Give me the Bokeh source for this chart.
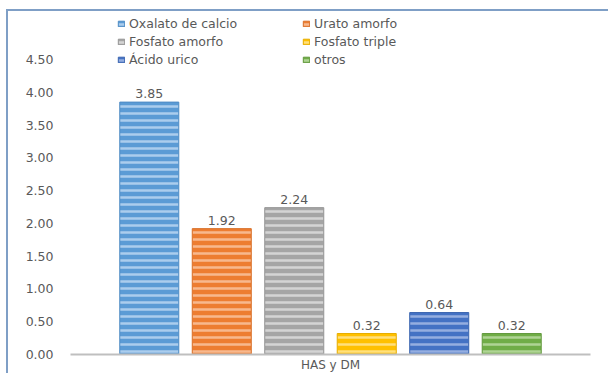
from bokeh.plotting import figure
from bokeh.models import (ColumnDataSource, FactorRange, Range1d, FixedTicker,
                          NumeralTickFormatter, Legend, LegendItem)
from bokeh.transform import dodge
from bokeh.core.properties import value
from bokeh.embed import file_html
from bokeh.resources import INLINE

category = ["HAS y DM"]
series = ["Oxalato de calcio", "Urato amorfo", "Fosfato amorfo",
          "Fosfato triple", "Ácido urico", "otros"]
values = [3.85, 1.92, 2.24, 0.32, 0.64, 0.32]
value_labels = ["3.85", "1.92", "2.24", "0.32", "0.64", "0.32"]
y_ticks = [0.0, 0.5, 1.0, 1.5, 2.0, 2.5, 3.0, 3.5, 4.0, 4.5]

fills = ["#5b9bd5", "#ed7d31", "#a5a5a5", "#ffc000", "#4472c4", "#70ad47"]
stripes = ["#b4d3f0", "#f8bf98", "#d9d9d9", "#ffe38a", "#9db5e3", "#b6d89c"]
edges = ["#4f8cc4", "#d9702a", "#959595", "#e6ad00", "#3c66b0", "#63993e"]

FONT = "DejaVu Sans"
FS = "12.5px"
TXT = "#595959"

p = figure(frame_width=520, frame_height=343,
           x_range=FactorRange(factors=category, range_padding=0),
           y_range=Range1d(0, 5.232), output_backend="svg", toolbar_location=None,
           min_border_left=62, min_border_right=18, min_border_top=0, min_border_bottom=8)
p.styles = {"margin-left": "6px", "margin-top": "9px",
            "border-left": "2px solid #7f9fc6", "border-top": "2px solid #7f9fc6"}
p.outline_line_color = None
p.xgrid.visible = False
p.ygrid.visible = False
p.background_fill_color = "white"
p.border_fill_color = "white"

p.yaxis.ticker = FixedTicker(ticks=y_ticks)
p.yaxis.formatter = NumeralTickFormatter(format="0.00")
p.yaxis.axis_line_color = None
p.yaxis.major_tick_line_color = None
p.yaxis.minor_tick_line_color = None
p.yaxis.major_tick_out = 0
p.yaxis.major_tick_in = 0
p.yaxis.minor_tick_out = 0
p.yaxis.major_label_standoff = 17
p.yaxis.major_label_text_font = FONT
p.yaxis.major_label_text_font_size = FS
p.yaxis.major_label_text_color = TXT

p.xaxis.axis_line_color = "#bfbfbf"
p.xaxis.axis_line_width = 2
p.xaxis.major_tick_line_color = None
p.xaxis.minor_tick_line_color = None
p.xaxis.major_tick_out = 0
p.xaxis.major_tick_in = 0
p.xaxis.minor_tick_out = 0
p.xaxis.major_label_standoff = 3
p.xaxis.major_label_text_font = FONT
p.xaxis.major_label_text_font_size = "12px"
p.xaxis.major_label_text_color = TXT

step = 0.1394
bw = 0.1135
renderers = []
for i, name in enumerate(series):
    src = ColumnDataSource(dict(x=category, top=[values[i]], lab=[value_labels[i]]))
    off = (i - 2.5) * step
    r = p.vbar(x=dodge("x", off, range=p.x_range), top="top", bottom=0, width=bw, source=src,
               fill_color=fills[i], line_color=edges[i], line_width=1,
               hatch_pattern="horizontal_line", hatch_color=stripes[i],
               hatch_scale=7, hatch_weight=2.5, hatch_alpha=0.9)
    renderers.append(r)
    p.text(x=dodge("x", off, range=p.x_range), y="top", text="lab", source=src,
           y_offset=-4, text_align="center", text_baseline="bottom",
           text_font=value(FONT), text_font_size=FS, text_color=TXT)


def make_legend(idx, x, y):
    lg = Legend(items=[LegendItem(label=series[i], renderers=[renderers[i]]) for i in idx],
                location=(x, y), orientation="vertical",
                background_fill_alpha=0, border_line_color=None,
                padding=0, margin=0, spacing=2,
                glyph_width=8, glyph_height=7, label_standoff=4, label_height=16,
                label_text_font=FONT, label_text_font_size=FS,
                label_text_color=TXT)
    p.add_layout(lg)


make_legend([0, 2, 4], 47, 287)
make_legend([1, 3, 5], 232, 287)

open("out.html", "w").write(file_html(p, INLINE))
